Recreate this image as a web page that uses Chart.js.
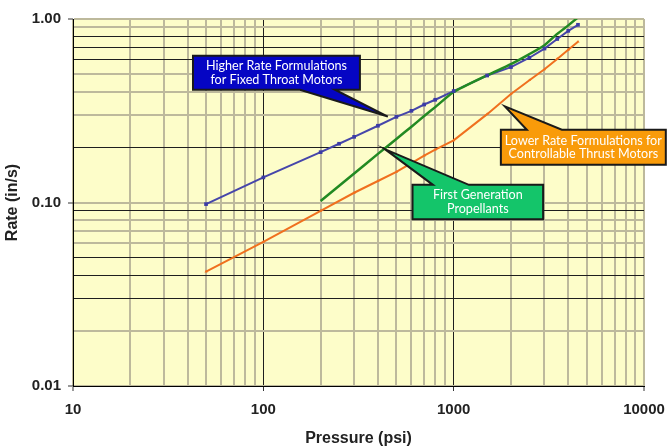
<!DOCTYPE html>
<html>
<head>
<meta charset="utf-8">
<script src="https://cdn.jsdelivr.net/npm/chart.js@4.4.0/dist/chart.umd.min.js"></script>
<style>
  body { margin: 0; background: #fff; }
  #wrap { width: 667px; height: 448px; }
</style>
</head>
<body>
<div id="wrap"><canvas id="rateChart" width="667" height="448"></canvas></div>
<script>
// Burn rate vs pressure data
const bluePressure = [50, 100, 200, 250, 300, 400, 500, 600, 700, 800, 1000, 1500, 2000, 2500, 3000, 3500, 4000, 4500];
const blueRate = [0.098, 0.137, 0.188, 0.209, 0.228, 0.262, 0.293, 0.316, 0.342, 0.363, 0.405, 0.492, 0.547, 0.615, 0.69, 0.778, 0.862, 0.93];

const greenPressure = [200, 300, 400, 500, 600, 700, 800, 1000, 1500, 2000, 2500, 3000, 3500, 4000, 4500];
const greenRate = [0.102, 0.144, 0.184, 0.222, 0.259, 0.296, 0.331, 0.40, 0.494, 0.568, 0.644, 0.72, 0.83, 0.923, 1.02];

const orangePressure = [50, 100, 200, 300, 400, 500, 600, 700, 800, 1000, 1500, 2000, 2500, 3000, 3500, 4000, 4500];
const orangeRate = [0.042, 0.061, 0.090, 0.113, 0.131, 0.147, 0.164, 0.18, 0.194, 0.218, 0.303, 0.39, 0.464, 0.532, 0.606, 0.68, 0.752];

// grid / tick positions
const xGridValues = [10, 20, 30, 40, 50, 60, 70, 80, 90, 100, 200, 300, 400, 500, 600, 700, 800, 900,
  1000, 2000, 3000, 4000, 5000, 6000, 7000, 8000, 9000, 10000];
const yGridValues = [0.01, 0.02, 0.03, 0.04, 0.05, 0.06, 0.07, 0.08, 0.09,
  0.1, 0.2, 0.3, 0.4, 0.5, 0.6, 0.7, 0.8, 0.9, 1];
const xLabelValues = [10, 100, 1000, 10000];
const xLabelTexts = ["10", "100", "1000", "10000"];
const yLabelValues = [0.01, 0.1, 1];
const yLabelTexts = ["0.01", "0.10", "1.00"];

// grid lines drawn dark in the original
const darkX = [100, 1000];
const darkY = [0.8, 0.7, 0.6, 0.2, 0.09, 0.05, 0.04, 0.03];

// callouts, anchored in data coordinates
const callouts = [
  { lines: ["Higher Rate Formulations", "for Fixed Throat Motors"], fill: "#0505c4",
    box: [42.7, 321.7, 0.631, 0.4115], tip: [451, 0.294], base: [155.7, 237.7], side: "bottom" },
  { lines: ["First Generation", "Propellants"], fill: "#14c56a",
    box: [608, 2951, 0.1248, 0.0811], tip: [435, 0.1954], base: [778, 1202], side: "top" },
  { lines: ["Lower Rate Formulations for", "Controllable Thrust Motors"], fill: "#f99b0a",
    box: [1770, 13020, 0.249, 0.1605], tip: [1858, 0.334], base: [2424, 3701], side: "top" }
];

function near(a, b) {
  return Math.abs(a - b) / b < 1e-6;
}
function inList(v, list) {
  return list.some(d => near(v, d));
}
function toPoints(xs, ys) {
  return xs.map((x, i) => ({ x: x, y: ys[i] }));
}

const GRAY = "#bdb99c";
const DARK = "#1e1e1e";
const labelFont = { family: "'Liberation Sans', Arial, sans-serif", size: 15, weight: "bold" };
const titleFont = { family: "'Liberation Sans', Arial, sans-serif", size: 16, weight: "bold" };

const backgroundPlugin = {
  id: "plotBackground",
  beforeDraw(chart) {
    const { ctx, chartArea } = chart;
    ctx.save();
    ctx.fillStyle = "#ffffff";
    ctx.fillRect(0, 0, chart.width, chart.height);
    ctx.fillStyle = "#fdfdc9";
    ctx.fillRect(chartArea.left, chartArea.top, chartArea.right - chartArea.left, chartArea.bottom - chartArea.top);
    ctx.restore();
  }
};

const calloutPlugin = {
  id: "callouts",
  afterDraw(chart) {
    const { ctx } = chart;
    const sx = chart.scales.x, sy = chart.scales.y;
    callouts.forEach(c => {
      const l = sx.getPixelForValue(c.box[0]);
      const r = sx.getPixelForValue(c.box[1]);
      const t = sy.getPixelForValue(c.box[2]);
      const b = sy.getPixelForValue(c.box[3]);
      const tx = sx.getPixelForValue(c.tip[0]);
      const ty = sy.getPixelForValue(c.tip[1]);
      const b1 = sx.getPixelForValue(c.base[0]);
      const b2 = sx.getPixelForValue(c.base[1]);

      ctx.save();
      ctx.beginPath();
      if (c.side === "top") {
        ctx.moveTo(l, t);
        ctx.lineTo(b1, t);
        ctx.lineTo(tx, ty);
        ctx.lineTo(b2, t);
        ctx.lineTo(r, t);
        ctx.lineTo(r, b);
        ctx.lineTo(l, b);
      } else {
        ctx.moveTo(l, t);
        ctx.lineTo(r, t);
        ctx.lineTo(r, b);
        ctx.lineTo(b2, b);
        ctx.lineTo(tx, ty);
        ctx.lineTo(b1, b);
        ctx.lineTo(l, b);
      }
      ctx.closePath();
      ctx.fillStyle = c.fill;
      ctx.fill();
      ctx.lineWidth = 2;
      ctx.lineJoin = "miter";
      ctx.strokeStyle = "#1a1a1a";
      ctx.stroke();

      ctx.fillStyle = "#ffffff";
      ctx.font = "12.6px Lato, 'Open Sans', sans-serif";
      ctx.textAlign = "center";
      ctx.textBaseline = "middle";
      const cx = (l + r) / 2, cy = (t + b) / 2;
      const gap = 13.5;
      c.lines.forEach((line, i) => {
        ctx.fillText(line, cx, cy + (i - (c.lines.length - 1) / 2) * gap);
      });
      ctx.restore();
    });
  }
};

new Chart(document.getElementById("rateChart"), {
  type: "line",
  data: {
    datasets: [
      {
        label: "Higher Rate (markers)",
        data: toPoints(bluePressure, blueRate),
        showLine: false,
        pointStyle: "rect",
        pointRadius: 2.6,
        pointBackgroundColor: "#3b3ba6",
        pointBorderColor: "#3b3ba6",
        pointBorderWidth: 0
      },
      {
        label: "First Generation Propellants",
        data: toPoints(greenPressure, greenRate),
        borderColor: "#228a22",
        borderWidth: 2.5,
        pointRadius: 0,
        tension: 0.2
      },
      {
        label: "Higher Rate Formulations for Fixed Throat Motors",
        data: toPoints(bluePressure, blueRate),
        borderColor: "#4646aa",
        borderWidth: 2,
        pointRadius: 0
      },
      {
        label: "Lower Rate Formulations for Controllable Thrust Motors",
        data: toPoints(orangePressure, orangeRate),
        borderColor: "#f0701e",
        backgroundColor: "#f0701e",
        borderWidth: 2,
        pointStyle: "triangle",
        pointRadius: 1.8,
        pointBorderWidth: 0
      }
    ]
  },
  options: {
    responsive: false,
    animation: false,
    layout: { padding: { top: 19, right: 23, left: 0, bottom: 0 } },
    plugins: {
      legend: { display: false },
      tooltip: { enabled: false }
    },
    scales: {
      x: {
        type: "logarithmic",
        min: 10,
        max: 10000,
        afterBuildTicks: scale => {
          scale.ticks = xGridValues.map(v => ({ value: v }));
        },
        afterFit: scale => {
          scale.height = 62;
          scale.paddingLeft = 0;
          scale.paddingRight = 0;
        },
        border: { color: "#000", width: 1 },
        grid: {
          color: ctx => inList(ctx.tick.value, darkX) ? DARK : GRAY,
          lineWidth: ctx => inList(ctx.tick.value, darkX) ? 1 : 2,
          tickLength: 5,
          tickColor: ctx => inList(ctx.tick.value, xLabelValues) ? "#333" : "rgba(0,0,0,0)",
          tickWidth: 1
        },
        ticks: {
          autoSkip: false,
          maxRotation: 0,
          padding: 10,
          color: "#222",
          font: labelFont,
          callback: value => {
            const i = xLabelValues.findIndex(v => near(value, v));
            return i >= 0 ? xLabelTexts[i] : "";
          }
        },
        title: {
          display: true,
          text: "Pressure (psi)",
          color: "#222",
          font: titleFont,
          padding: { top: 0, bottom: 0 }
        }
      },
      y: {
        type: "logarithmic",
        min: 0.01,
        max: 1,
        afterBuildTicks: scale => {
          scale.ticks = yGridValues.map(v => ({ value: v }));
        },
        afterFit: scale => {
          scale.width = 73;
          scale.paddingTop = 0;
          scale.paddingBottom = 0;
        },
        border: { color: "#000", width: 1 },
        grid: {
          color: ctx => inList(ctx.tick.value, darkY) ? DARK : GRAY,
          lineWidth: ctx => inList(ctx.tick.value, darkY) ? 1 : 2,
          tickLength: 5,
          tickColor: ctx => inList(ctx.tick.value, yLabelValues) ? "#333" : "rgba(0,0,0,0)",
          tickWidth: 1
        },
        ticks: {
          autoSkip: false,
          padding: 7,
          color: "#222",
          font: labelFont,
          callback: value => {
            const i = yLabelValues.findIndex(v => near(value, v));
            return i >= 0 ? yLabelTexts[i] : "";
          }
        },
        title: {
          display: true,
          text: "Rate (in/s)",
          color: "#222",
          font: titleFont,
          padding: { top: 3, bottom: 0 }
        }
      }
    }
  },
  plugins: [backgroundPlugin, calloutPlugin]
});
</script>
</body>
</html>
